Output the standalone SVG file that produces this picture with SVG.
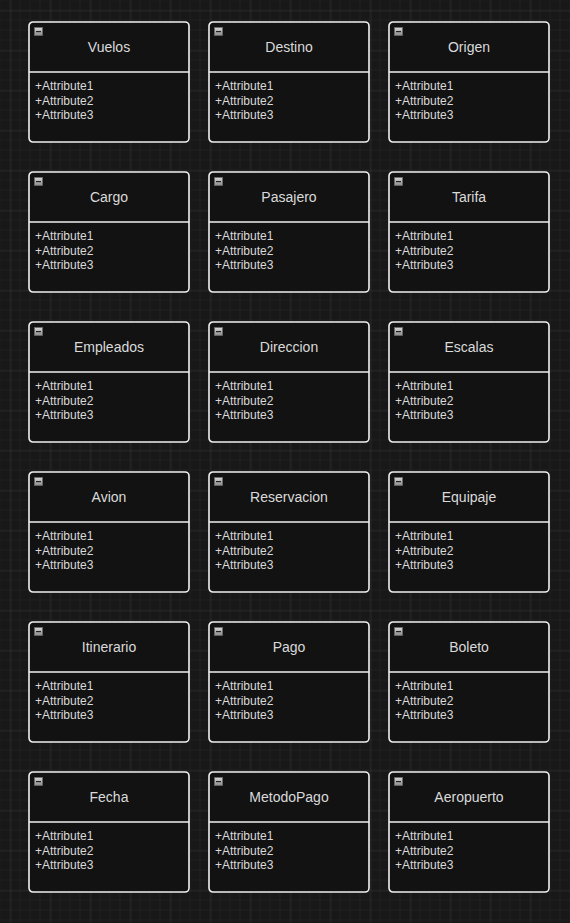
<svg xmlns="http://www.w3.org/2000/svg" width="570" height="923" viewBox="0 0 570 923">
<defs>
<pattern id="minor" x="0" y="0" width="10" height="10" patternUnits="userSpaceOnUse">
<path d="M10 0V10M0 10H10" fill="none" stroke="#262626" stroke-width="1"/>
</pattern>
<pattern id="major" x="10.5" y="10.5" width="40" height="40" patternUnits="userSpaceOnUse">
<path d="M0 0V40M0 0H40" fill="none" stroke="#333333" stroke-width="1"/>
</pattern>
<linearGradient id="ig" x1="0" y1="0" x2="0" y2="1">
<stop offset="0" stop-color="#d8d8d8"/>
<stop offset="1" stop-color="#8a8a8a"/>
</linearGradient>
<g id="icon">
<rect x="0.5" y="0.5" width="8" height="8" fill="url(#ig)" stroke="#6a6a6a" stroke-width="0.8"/>
<rect x="2" y="4" width="5" height="1.2" fill="#222"/>
</g>
</defs>
<style>
.box{fill:#121212;stroke:#f0f0f0;stroke-width:1.6}
.sep{stroke:#f0f0f0;stroke-width:1.6}
.t{font-family:"Liberation Sans",Arial,sans-serif;font-size:14px;fill:#dadada;text-anchor:middle}
.a{font-family:"Liberation Sans",Arial,sans-serif;font-size:12px;fill:#dadada}
</style>
<rect width="570" height="923" fill="#181818"/>
<rect width="570" height="923" fill="url(#minor)" transform="translate(0.5 0.5)"/>
<rect width="570" height="923" fill="url(#major)"/>
<g id="connectors"/>
<g id="n-vuelos" transform="translate(29 22)"><rect class="box" width="160" height="120" rx="4"/><line class="sep" x1="0" y1="50" x2="160" y2="50"/><use href="#icon" x="5" y="5"/><text class="t" x="80" y="30">Vuelos</text><text class="a" x="6" y="68">+Attribute1</text><text class="a" x="6" y="82.5">+Attribute2</text><text class="a" x="6" y="97">+Attribute3</text></g>
<g id="n-destino" transform="translate(209 22)"><rect class="box" width="160" height="120" rx="4"/><line class="sep" x1="0" y1="50" x2="160" y2="50"/><use href="#icon" x="5" y="5"/><text class="t" x="80" y="30">Destino</text><text class="a" x="6" y="68">+Attribute1</text><text class="a" x="6" y="82.5">+Attribute2</text><text class="a" x="6" y="97">+Attribute3</text></g>
<g id="n-origen" transform="translate(389 22)"><rect class="box" width="160" height="120" rx="4"/><line class="sep" x1="0" y1="50" x2="160" y2="50"/><use href="#icon" x="5" y="5"/><text class="t" x="80" y="30">Origen</text><text class="a" x="6" y="68">+Attribute1</text><text class="a" x="6" y="82.5">+Attribute2</text><text class="a" x="6" y="97">+Attribute3</text></g>
<g id="n-cargo" transform="translate(29 172)"><rect class="box" width="160" height="120" rx="4"/><line class="sep" x1="0" y1="50" x2="160" y2="50"/><use href="#icon" x="5" y="5"/><text class="t" x="80" y="30">Cargo</text><text class="a" x="6" y="68">+Attribute1</text><text class="a" x="6" y="82.5">+Attribute2</text><text class="a" x="6" y="97">+Attribute3</text></g>
<g id="n-pasajero" transform="translate(209 172)"><rect class="box" width="160" height="120" rx="4"/><line class="sep" x1="0" y1="50" x2="160" y2="50"/><use href="#icon" x="5" y="5"/><text class="t" x="80" y="30">Pasajero</text><text class="a" x="6" y="68">+Attribute1</text><text class="a" x="6" y="82.5">+Attribute2</text><text class="a" x="6" y="97">+Attribute3</text></g>
<g id="n-tarifa" transform="translate(389 172)"><rect class="box" width="160" height="120" rx="4"/><line class="sep" x1="0" y1="50" x2="160" y2="50"/><use href="#icon" x="5" y="5"/><text class="t" x="80" y="30">Tarifa</text><text class="a" x="6" y="68">+Attribute1</text><text class="a" x="6" y="82.5">+Attribute2</text><text class="a" x="6" y="97">+Attribute3</text></g>
<g id="n-empleados" transform="translate(29 322)"><rect class="box" width="160" height="120" rx="4"/><line class="sep" x1="0" y1="50" x2="160" y2="50"/><use href="#icon" x="5" y="5"/><text class="t" x="80" y="30">Empleados</text><text class="a" x="6" y="68">+Attribute1</text><text class="a" x="6" y="82.5">+Attribute2</text><text class="a" x="6" y="97">+Attribute3</text></g>
<g id="n-direccion" transform="translate(209 322)"><rect class="box" width="160" height="120" rx="4"/><line class="sep" x1="0" y1="50" x2="160" y2="50"/><use href="#icon" x="5" y="5"/><text class="t" x="80" y="30">Direccion</text><text class="a" x="6" y="68">+Attribute1</text><text class="a" x="6" y="82.5">+Attribute2</text><text class="a" x="6" y="97">+Attribute3</text></g>
<g id="n-escalas" transform="translate(389 322)"><rect class="box" width="160" height="120" rx="4"/><line class="sep" x1="0" y1="50" x2="160" y2="50"/><use href="#icon" x="5" y="5"/><text class="t" x="80" y="30">Escalas</text><text class="a" x="6" y="68">+Attribute1</text><text class="a" x="6" y="82.5">+Attribute2</text><text class="a" x="6" y="97">+Attribute3</text></g>
<g id="n-avion" transform="translate(29 472)"><rect class="box" width="160" height="120" rx="4"/><line class="sep" x1="0" y1="50" x2="160" y2="50"/><use href="#icon" x="5" y="5"/><text class="t" x="80" y="30">Avion</text><text class="a" x="6" y="68">+Attribute1</text><text class="a" x="6" y="82.5">+Attribute2</text><text class="a" x="6" y="97">+Attribute3</text></g>
<g id="n-reservacion" transform="translate(209 472)"><rect class="box" width="160" height="120" rx="4"/><line class="sep" x1="0" y1="50" x2="160" y2="50"/><use href="#icon" x="5" y="5"/><text class="t" x="80" y="30">Reservacion</text><text class="a" x="6" y="68">+Attribute1</text><text class="a" x="6" y="82.5">+Attribute2</text><text class="a" x="6" y="97">+Attribute3</text></g>
<g id="n-equipaje" transform="translate(389 472)"><rect class="box" width="160" height="120" rx="4"/><line class="sep" x1="0" y1="50" x2="160" y2="50"/><use href="#icon" x="5" y="5"/><text class="t" x="80" y="30">Equipaje</text><text class="a" x="6" y="68">+Attribute1</text><text class="a" x="6" y="82.5">+Attribute2</text><text class="a" x="6" y="97">+Attribute3</text></g>
<g id="n-itinerario" transform="translate(29 622)"><rect class="box" width="160" height="120" rx="4"/><line class="sep" x1="0" y1="50" x2="160" y2="50"/><use href="#icon" x="5" y="5"/><text class="t" x="80" y="30">Itinerario</text><text class="a" x="6" y="68">+Attribute1</text><text class="a" x="6" y="82.5">+Attribute2</text><text class="a" x="6" y="97">+Attribute3</text></g>
<g id="n-pago" transform="translate(209 622)"><rect class="box" width="160" height="120" rx="4"/><line class="sep" x1="0" y1="50" x2="160" y2="50"/><use href="#icon" x="5" y="5"/><text class="t" x="80" y="30">Pago</text><text class="a" x="6" y="68">+Attribute1</text><text class="a" x="6" y="82.5">+Attribute2</text><text class="a" x="6" y="97">+Attribute3</text></g>
<g id="n-boleto" transform="translate(389 622)"><rect class="box" width="160" height="120" rx="4"/><line class="sep" x1="0" y1="50" x2="160" y2="50"/><use href="#icon" x="5" y="5"/><text class="t" x="80" y="30">Boleto</text><text class="a" x="6" y="68">+Attribute1</text><text class="a" x="6" y="82.5">+Attribute2</text><text class="a" x="6" y="97">+Attribute3</text></g>
<g id="n-fecha" transform="translate(29 772)"><rect class="box" width="160" height="120" rx="4"/><line class="sep" x1="0" y1="50" x2="160" y2="50"/><use href="#icon" x="5" y="5"/><text class="t" x="80" y="30">Fecha</text><text class="a" x="6" y="68">+Attribute1</text><text class="a" x="6" y="82.5">+Attribute2</text><text class="a" x="6" y="97">+Attribute3</text></g>
<g id="n-metodopago" transform="translate(209 772)"><rect class="box" width="160" height="120" rx="4"/><line class="sep" x1="0" y1="50" x2="160" y2="50"/><use href="#icon" x="5" y="5"/><text class="t" x="80" y="30">MetodoPago</text><text class="a" x="6" y="68">+Attribute1</text><text class="a" x="6" y="82.5">+Attribute2</text><text class="a" x="6" y="97">+Attribute3</text></g>
<g id="n-aeropuerto" transform="translate(389 772)"><rect class="box" width="160" height="120" rx="4"/><line class="sep" x1="0" y1="50" x2="160" y2="50"/><use href="#icon" x="5" y="5"/><text class="t" x="80" y="30">Aeropuerto</text><text class="a" x="6" y="68">+Attribute1</text><text class="a" x="6" y="82.5">+Attribute2</text><text class="a" x="6" y="97">+Attribute3</text></g>
</svg>
